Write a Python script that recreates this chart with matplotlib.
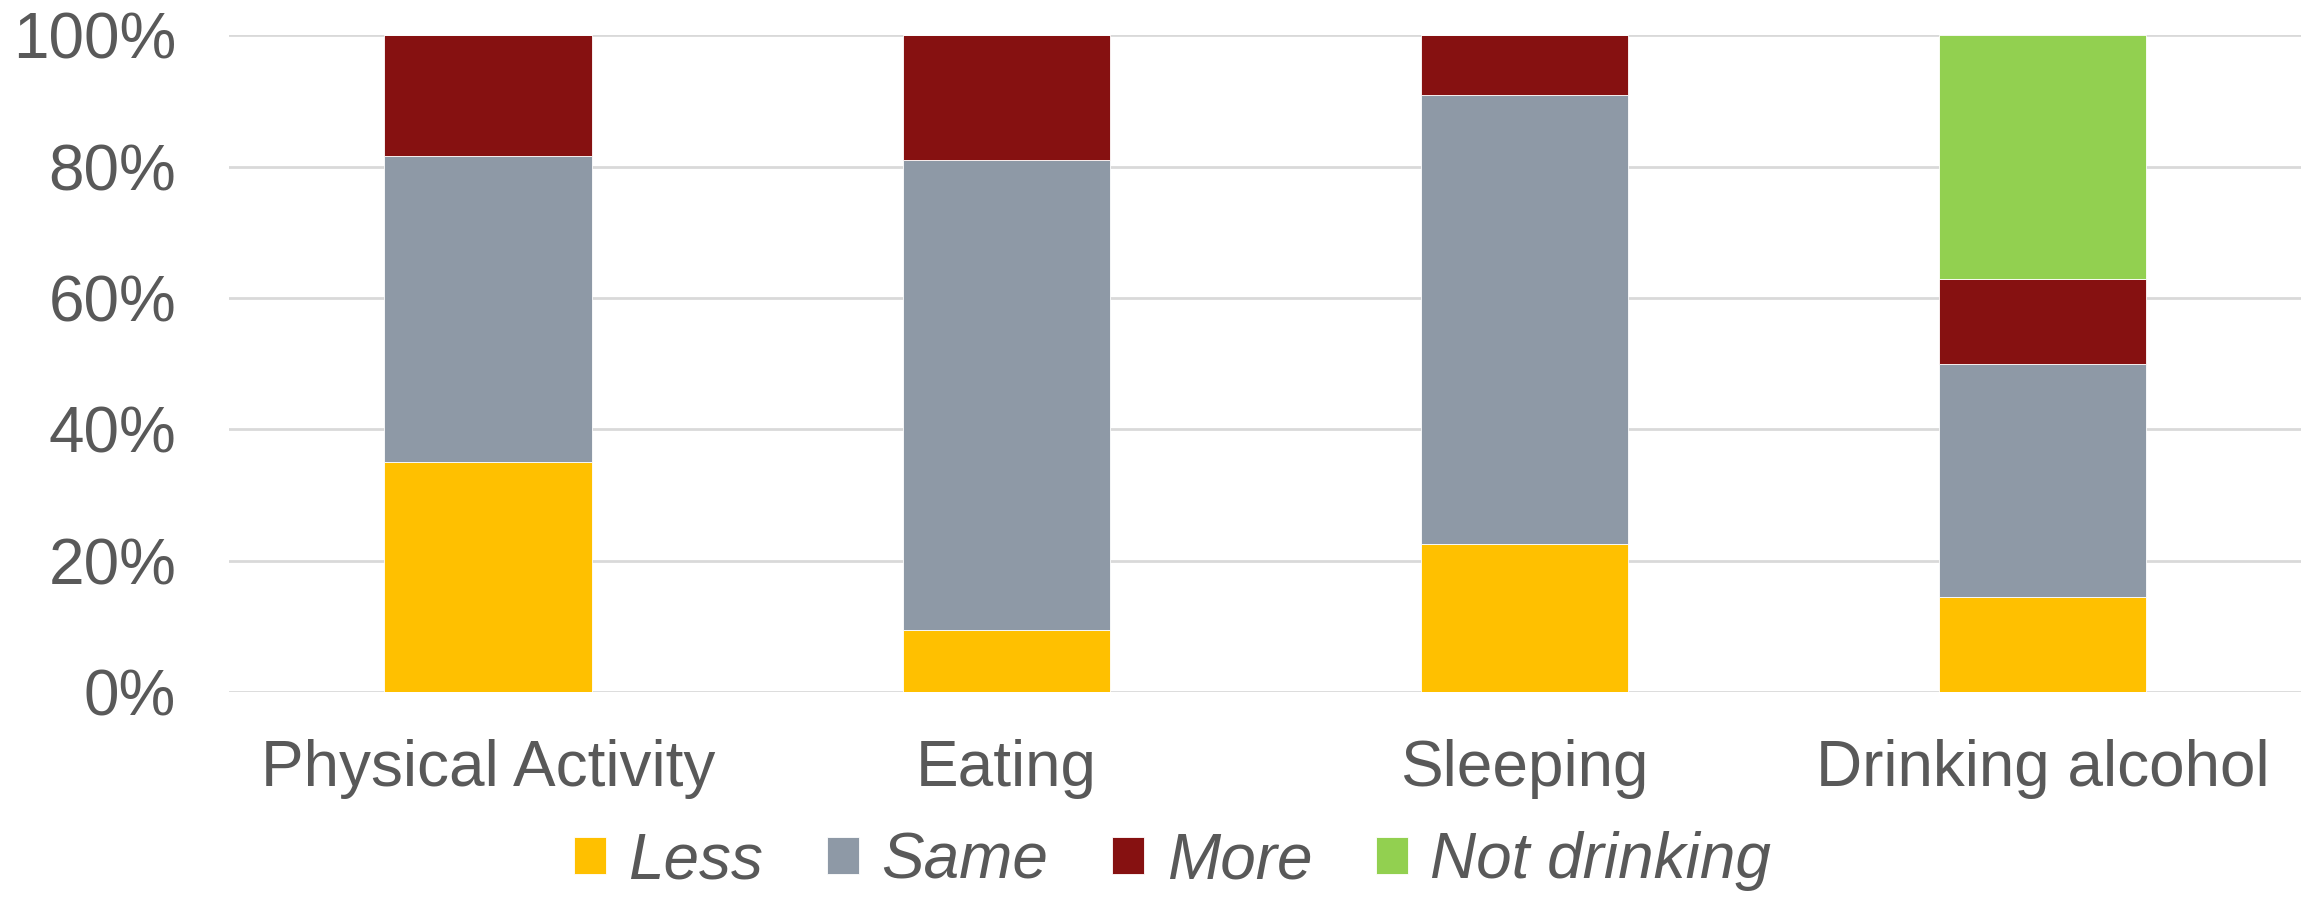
import numpy as np
import matplotlib
matplotlib.use("Agg")
import matplotlib.pyplot as plt
from matplotlib.ticker import PercentFormatter

plt.rcParams["font.family"] = ["Liberation Sans", "DejaVu Sans"]

# Share of respondents per behaviour (percent)
categorias = ["Physical Activity", "Eating", "Sleeping", "Drinking alcohol"]
less = [35.1, 9.4, 22.6, 14.4]
same = [46.5, 71.6, 68.4, 35.5]
more = [18.4, 19.0, 9.0, 13.0]
not_drinking = [0.0, 0.0, 0.0, 37.1]

series = [
    ("Less", less, "#FFC000"),
    ("Same", same, "#8E99A6"),
    ("More", more, "#861111"),
    ("Not drinking", not_drinking, "#92D050"),
]

gris_texto = "#595959"

fig = plt.figure(figsize=(23.13, 8.97), dpi=100)
ax = fig.add_axes([0.099, 0.2286, 0.896, 0.7319])

x = np.arange(len(categorias))
base = np.zeros(len(categorias))
for nombre, valores, color in series:
    valores = np.array(valores)
    ax.bar(x, valores, bottom=base, width=0.4, color=color, label=nombre,
           edgecolor="white", linewidth=0.6, zorder=2)
    base += valores

ax.set_xlim(-0.5, len(categorias) - 0.5)
ax.set_ylim(0, 100)
ax.set_yticks(np.arange(0, 101, 20))
ax.yaxis.set_major_formatter(PercentFormatter(decimals=0))
ax.grid(axis="y", color="#D9D9D9", linewidth=2, zorder=0)
ax.set_xticks(x)
ax.set_xticklabels(categorias)

for lado in ["top", "right", "left", "bottom"]:
    ax.spines[lado].set_visible(False)
ax.tick_params(axis="both", length=0, labelsize=46, colors=gris_texto)
ax.tick_params(axis="y", pad=38)
ax.tick_params(axis="x", pad=34)

leg = fig.legend(loc="center", bbox_to_anchor=(0.507, 0.04), ncol=4, frameon=False,
                 fontsize=46, handlelength=0.5, handleheight=0.5, handletextpad=0.35,
                 columnspacing=1.0)
for t in leg.get_texts():
    t.set_color(gris_texto)
    t.set_fontstyle("italic")

plt.savefig("out.png", dpi=100)
